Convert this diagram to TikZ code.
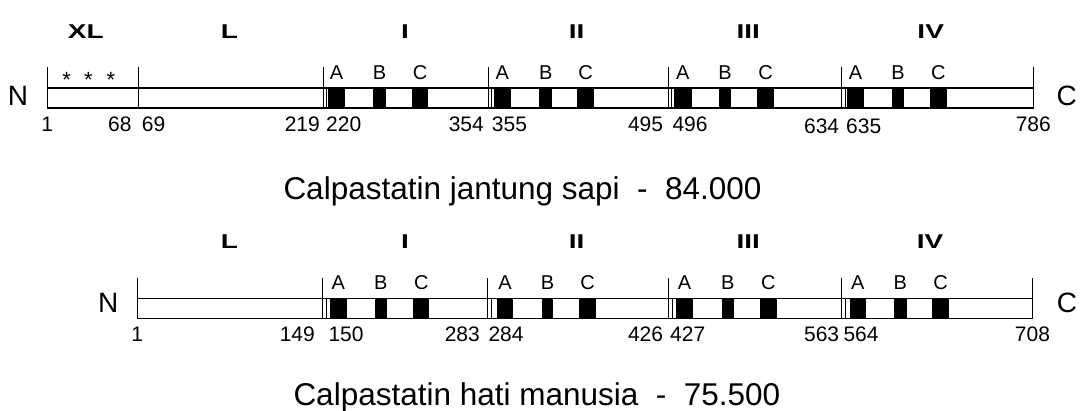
\documentclass[tikz,border=0pt]{standalone}
\usepackage{fontspec}
\setmainfont{Liberation Sans}
% region names are set in a horizontally widened face
\newcommand{\widelabel}[1]{\scalebox{1.4}[1]{#1}}
\begin{document}
\begin{tikzpicture}[x=1pt,y=-1pt,
  bar/.style={draw,line width=1.3pt,fill=white},
  tickline/.style={line width=1.3pt},
  seam/.style={line width=0.9pt},
  motif/.style={fill=black},
  region/.style={inner sep=0pt,anchor=base,font=\fontsize{20}{20}\selectfont\bfseries},
  sub/.style={inner sep=0pt,anchor=base,font=\fontsize{20}{20}\selectfont},
  num/.style={inner sep=0pt,font=\fontsize{21}{21}\selectfont},
  term/.style={inner sep=0pt,anchor=base,font=\fontsize{28}{28}\selectfont},
  caption/.style={inner sep=0pt,anchor=base west,font=\fontsize{31.5}{31.5}\selectfont},
  star/.style={inner sep=0pt,anchor=base,font=\fontsize{22}{22}\selectfont}]
\useasboundingbox (0,0) rectangle (1086,410);

% ---------- bovine heart calpastatin ----------
\draw[bar] (47.3,88) rectangle (1033.3,108);
\foreach \x in {47.3,138.3,323.3,488.3,668.3,841.7,1033.3}
  \draw[tickline] (\x,67) -- (\x,108);
\foreach \x in {323.3,488.3,668.3,841.7}
  \draw[seam] (\x+3.5,88) -- (\x+3.5,108);
\foreach \a/\b/\t [count=\i] in {
  328.3/345/A,373.3/386/B,411.7/428.3/C,
  494/510.7/A,539.3/552.3/B,577.3/594/C,
  674.3/691.5/A,719.3/731/B,757.3/774/C,
  846.7/864.3/A,892/904.3/B,930/946.7/C}{
  \fill[motif] (\a,88) rectangle (\b,108);
  \node[sub] (ta\i) at ({(\a+\b)/2},79.3) {\t};
}
\foreach \x [count=\i] in {66.7,88.3,111}
  \node[star] (st\i) at (\x,87) {*};
\node[region] (txl) at (85.8,38.5) {\widelabel{XL}};
\node[region] (tl)  at (229.3,38.5) {\widelabel{L}};
\node[region] (t1)  at (405,38.5) {\widelabel{I}};
\node[region] (t2)  at (576.7,38.5) {\widelabel{II}};
\node[region] (t3)  at (748.3,38.5) {\widelabel{III}};
\node[region] (t4)  at (930.7,38.5) {\widelabel{IV}};
\node[term] (tn) at (18,105) {N};
\node[term] (tc) at (1066.7,105) {C};
\node[num,anchor=base]      (tp1)   at (47.3,131)  {1};
\node[num,anchor=base east] (tp68)  at (131.7,131) {68};
\node[num,anchor=base west] (tp69)  at (141.7,131) {69};
\node[num,anchor=base east] (tp219) at (320,131)   {219};
\node[num,anchor=base west] (tp220) at (326,131)   {220};
\node[num,anchor=base east] (tp354) at (484,131)   {354};
\node[num,anchor=base west] (tp355) at (491.7,131) {355};
\node[num,anchor=base east] (tp495) at (663.3,131) {495};
\node[num,anchor=base west] (tp496) at (672.3,131) {496};
\node[num,anchor=base east] (tp634) at (839.3,133) {634};
\node[num,anchor=base west] (tp635) at (846,133)   {635};
\node[num,anchor=base]      (tp786) at (1033.3,131) {786};
\node[caption] (tcap) at (283.3,199) {Calpastatin jantung sapi\ \ -\ \ 84.000};

% ---------- human liver calpastatin ----------
\draw[bar] (137.3,298.3) rectangle (1032.3,318.3);
\foreach \x in {137.3,322.7,487.7,668.3,841.7,1032.3}
  \draw[tickline] (\x,278.3) -- (\x,318.3);
\foreach \x in {322.7,487.7,668.3,841.7}
  \draw[seam] (\x+3.7,298.3) -- (\x+3.7,318.3);
\foreach \a/\b/\t [count=\i] in {
  330/346.7/A,375/386.7/B,413.3/429.3/C,
  496.7/513.3/A,541.7/553.3/B,579.3/596/C,
  676/693.3/A,721.7/734/B,760/776.7/C,
  850/865.7/A,894/906.7/B,932.3/949/C}{
  \fill[motif] (\a,298.3) rectangle (\b,318.3);
  \node[sub] (ba\i) at ({(\a+\b)/2},289.3) {\t};
}
\node[region] (bl) at (229.3,248) {\widelabel{L}};
\node[region] (b1) at (405,248) {\widelabel{I}};
\node[region] (b2) at (576.7,248) {\widelabel{II}};
\node[region] (b3) at (748.3,248) {\widelabel{III}};
\node[region] (b4) at (930,248) {\widelabel{IV}};
\node[term] (bn) at (108.3,312) {N};
\node[term] (bc) at (1067,312) {C};
\node[num,anchor=base]      (bp1)   at (137.3,341.7) {1};
\node[num,anchor=base east] (bp149) at (315,341.7)   {149};
\node[num,anchor=base west] (bp150) at (328.3,341.7) {150};
\node[num,anchor=base east] (bp283) at (480,341.7)   {283};
\node[num,anchor=base west] (bp284) at (488.3,341.7) {284};
\node[num,anchor=base east] (bp426) at (663.3,341.7) {426};
\node[num,anchor=base west] (bp427) at (670,341.7)   {427};
\node[num,anchor=base east] (bp563) at (839.3,341.7) {563};
\node[num,anchor=base west] (bp564) at (843.3,341.7) {564};
\node[num,anchor=base]      (bp708) at (1032.5,341.7) {708};
\node[caption] (bcap) at (293.3,405) {Calpastatin hati manusia\ \ -\ \ 75.500};
\end{tikzpicture}
\end{document}
